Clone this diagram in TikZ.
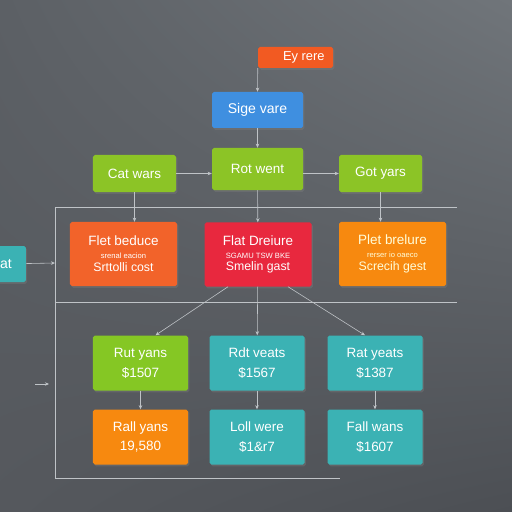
\documentclass[tikz,border=0pt]{standalone}
\usepackage{fontspec}
\setmainfont{Liberation Sans}
\usetikzlibrary{arrows.meta,shadows,shadings}

\definecolor{bgul}{HTML}{5C6065}
\definecolor{bgur}{HTML}{70757A}
\definecolor{bgll}{HTML}{55585D}
\definecolor{bglr}{HTML}{4C4F54}
\definecolor{redorange}{HTML}{F25A22}
\definecolor{skyblue}{HTML}{3F8FE0}
\definecolor{lime}{HTML}{8CC426}
\definecolor{flame}{HTML}{F2632A}
\definecolor{crimson}{HTML}{E8283E}
\definecolor{amber}{HTML}{F7890F}
\definecolor{tealbox}{HTML}{3BB2B4}
\definecolor{wire}{HTML}{BFC3C7}

\begin{document}
\begin{tikzpicture}[x=0.03cm, y=-0.03cm,
        box/.style={rectangle, rounded corners=1.5pt, text=white, align=center, inner sep=2pt,
            drop shadow={shadow xshift=1.2pt, shadow yshift=-1.5pt, opacity=0.35}},
        head/.style={box, minimum width=2.49cm, minimum height=1.11cm, font=\fontsize{11.5}{13}\selectfont},
        mid/.style={box, minimum width=3.21cm, minimum height=1.92cm},
        low/.style={box, minimum width=2.85cm, minimum height=1.65cm, font=\fontsize{11.5}{17}\selectfont},
        arr/.style={draw=wire, line width=0.5pt, -{Stealth[length=3.5pt, width=3pt]}},
        rule/.style={draw=wire, line width=0.6pt}]

        \shade[upper left=bgul, upper right=bgur, lower left=bgll, lower right=bglr] (0,0) rectangle (512,512);
        \useasboundingbox (0,0) rectangle (512,512);

        \node[box, fill=redorange, minimum width=2.25cm, minimum height=0.63cm, font=\fontsize{11}{13}\selectfont] (ey) at (295.5,57.5) {\hspace{0.5cm}Ey rere};
        \node[box, fill=skyblue, minimum width=2.73cm, minimum height=1.08cm, font=\fontsize{12}{14}\selectfont] (sig) at (257.5,110) {Sige vare};

        \node[head, fill=lime] (cat) at (134.5,173.5) {Cat wars};
        \node[head, fill=lime, minimum width=2.73cm, minimum height=1.26cm] (rot) at (257.5,169) {Rot went};
        \node[head, fill=lime] (got) at (380.5,173.5) {Got yars};

        \node[mid, fill=flame] (flet) at (123.5,254) {{\fontsize{11.5}{13}\selectfont Flet beduce}\\[-1pt]
            {\fontsize{6.5}{8}\selectfont srenal eacion}\\[-1pt] {\fontsize{10.5}{12}\selectfont Srttolli cost}};
        \node[mid, fill=crimson] (flat) at (258,254.5) {{\fontsize{11.5}{13}\selectfont Flat Dreiure}\\[-1pt]
            {\fontsize{6.5}{8}\selectfont SGAMU TSW BKE}\\[-1pt] {\fontsize{10.5}{12}\selectfont Smelin gast}};
        \node[mid, fill=amber, text=yellow!15] (plet) at (392.5,254) {{\fontsize{11.5}{13}\selectfont Plet brelure}\\[-1pt]
            {\fontsize{6.5}{8}\selectfont rerser io oaeco}\\[-1pt] {\fontsize{10.5}{12}\selectfont Screcih gest}};

        \node[box, fill=tealbox, minimum height=1.08cm, font=\fontsize{12}{14}\selectfont, anchor=east] (side) at (26,264) {\hspace*{0.5cm}at\hspace*{0.35cm}};

        \node[low, fill=lime!95!green] (ruty) at (140.5,363) {Rut yans\\ \$1507};
        \node[low, fill=tealbox] (rdtv) at (257,363) {Rdt veats\\ \$1567};
        \node[low, fill=tealbox] (raty) at (375,363) {Rat yeats\\ \$1387};

        \node[low, fill=amber] (rall) at (140.5,437) {Rall yans\\ 19,580};
        \node[low, fill=tealbox] (loll) at (257,437) {Loll were\\ \$1\&r7};
        \node[low, fill=tealbox] (fall) at (375,437) {Fall wans\\ \$1607};

        \coordinate (tl) at (55,207);
        \coordinate (tr) at (457,207);
        \coordinate (ml) at (55,302);
        \coordinate (mr) at (457,302);
        \coordinate (bl) at (55,478);
        \coordinate (br) at (340,478);
        \coordinate (gate) at (55,263);
        \coordinate (p1) at (35,384);
        \coordinate (p2) at (49,384);

        \draw[rule] (tr) -- (tl) -- (bl) -- (br);
        \draw[rule] (ml) -- (mr);

        \draw[arr] (ey.south west) -- (sig.north);
        \draw[arr] (sig) -- (rot);
        \draw[arr] (cat.east) -- (cat.east -| rot.west);
        \draw[arr] (rot.east |- got) -- (got.west);

        \draw[arr] (cat) -- (flet.north -| cat);
        \draw[arr] (rot) -- (flat);
        \draw[arr] (got) -- (plet.north -| got);
        \draw[arr] (side) -- (gate);

        \draw[arr] ([xshift=-0.9cm]flat.south) -- ([xshift=0.45cm]ruty.north);
        \draw[arr] (flat) -- (rdtv);
        \draw[arr] ([xshift=0.9cm]flat.south) -- ([xshift=-0.3cm]raty.north);

        \draw[arr] (ruty) -- (rall);
        \draw[arr] (rdtv) -- (loll);
        \draw[arr] (raty) -- (fall);
        \draw[arr] (p1) -- (p2);
    \end{tikzpicture}
\end{document}
